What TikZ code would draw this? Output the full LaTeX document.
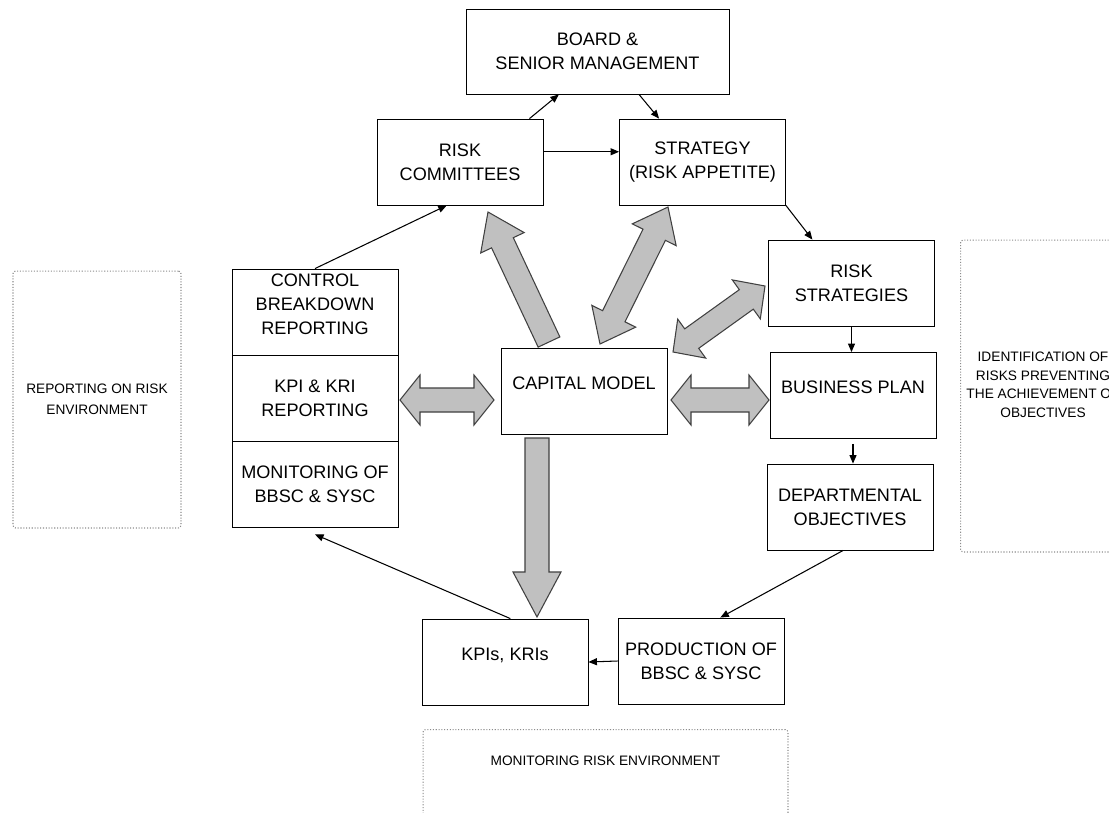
\documentclass[tikz,border=0pt]{standalone}
\usepackage{fontspec}
\setmainfont{Liberation Sans}
\usetikzlibrary{arrows.meta,calc}
\definecolor{fatfill}{HTML}{C0C0C0}
\definecolor{fatline}{HTML}{404040}
\definecolor{dotline}{HTML}{8C8C8C}
% fat block arrows: from, to, half shaft, half head, head length
\newcommand{\fatarrow}[5]{%
  \path ($(#2)!#5!(#1)$) coordinate (fh);
  \draw[fat] ($(#1)!#3!90:(#2)$) -- ($(fh)!#3!-90:(#1)$) -- ($(fh)!#4!-90:(#1)$) -- (#2)
    -- ($(fh)!#4!90:(#1)$) -- ($(fh)!#3!90:(#1)$) -- ($(#1)!#3!-90:(#2)$) -- cycle;}
\newcommand{\fatdarrow}[5]{%
  \path ($(#1)!#5!(#2)$) coordinate (ft) ($(#2)!#5!(#1)$) coordinate (fh);
  \draw[fat] (#1) -- ($(ft)!#4!90:(#2)$) -- ($(ft)!#3!90:(#2)$) -- ($(fh)!#3!-90:(#1)$)
    -- ($(fh)!#4!-90:(#1)$) -- (#2) -- ($(fh)!#4!90:(#1)$) -- ($(fh)!#3!90:(#1)$)
    -- ($(ft)!#3!-90:(#2)$) -- ($(ft)!#4!-90:(#2)$) -- cycle;}
\tikzset{
  box/.style ={draw=black, line width=.5pt, fill=white, align=center, inner sep=2pt,
               minimum width=3.32cm, minimum height=1.72cm, font=\fontsize{10.3}{13.6}\selectfont},
  boxup/.style={box, text depth=0.32cm},
  dbox/.style={draw=dotline, densely dotted, line width=.6pt, rounded corners=1.5pt, align=center,
               font=\fontsize{7.8}{10.5}\selectfont},
  fat/.style ={draw=fatline, fill=fatfill, line width=.6pt, line join=miter},
  ln/.style  ={draw=black, line width=.6pt, -{Triangle[length=1.7mm,width=1.4mm]}},
}
\begin{document}
\begin{tikzpicture}[x=0.02cm,y=-0.02cm]
    \path[use as bounding box,fill=white] (0,0) rectangle (1109,812);
    \clip (0,0) rectangle (1109,812);

    \node[box,minimum width=5.26cm,minimum height=1.7cm] (board) at (597.5,51.5) {BOARD \&\\SENIOR MANAGEMENT};
    \node[box] (rc) at (460,162) {RISK\\COMMITTEES};
    \node[box] (strat) at (702.5,162) {STRATEGY\\(RISK APPETITE)};
    \node[box] (rstrat) at (851.5,283) {RISK\\STRATEGIES};
    \node[boxup] (bplan) at (853,395.5) {BUSINESS PLAN};
    \node[box] (dept) at (850,507) {DEPARTMENTAL\\OBJECTIVES};
    \node[boxup] (cap) at (584,391.5) {CAPITAL MODEL};
    \node[boxup] (ctrl) at (315,312) {CONTROL\\BREAKDOWN\\REPORTING};
    \node[box] (kpirep) at (315,398) {KPI \& KRI\\REPORTING};
    \node[box] (mon) at (315,484) {MONITORING OF\\BBSC \& SYSC};
    \node[boxup] (kpi) at (505,662) {KPIs, KRIs};
    \node[box] (prod) at (701,661) {PRODUCTION OF\\BBSC \& SYSC};

    \node[dbox,minimum width=3.36cm,minimum height=5.14cm] (envrep) at (97,399.5)
      {REPORTING ON RISK\\[1.5pt] ENVIRONMENT};
    \node[dbox,minimum width=3.24cm,minimum height=6.24cm,text depth=0.45cm] (ident) at (1043,396)
      {IDENTIFICATION OF\\ RISKS PREVENTING\\ THE ACHIEVEMENT OF\\ OBJECTIVES};
    \node[dbox,anchor=north,minimum width=7.3cm,text height=0.2cm,text depth=2cm,inner ysep=0.52cm]
      (envmon) at (605.5,729) {MONITORING RISK ENVIRONMENT};

    \draw[ln] (rc.32) -- (board.228);
    \draw[ln] (board.314) -- (strat.135);
    \draw[ln] (rc.7) -- (rc.7 -| strat.west);
    \draw[ln] (strat.south east) -- (rstrat.132);
    \draw[ln] (rstrat.south) -- (rstrat.south |- bplan.north);
    \draw[ln] ([yshift=-0.1cm]bplan.south) -- (bplan.south |- dept.north);
    \draw[ln] (dept.261) -- (prod.66);
    \draw[ln] (prod.west) -- (kpi.east);
    \draw[ln] (kpi.83) -- ([yshift=-0.14cm]mon.south);
    \draw[ln] (ctrl.north) -- (rc.253);

    \coordinate (c1) at (549,342);  \coordinate (r1) at (488,212);
    \coordinate (c2) at (600,344);  \coordinate (s2) at (668,207);
    \coordinate (c3) at (673,352);  \coordinate (s3) at (765,286);
    \coordinate (k4) at (400,400);  \coordinate (c4) at (494,400);
    \coordinate (c5) at (671,400);  \coordinate (b5) at (769,400);
    \coordinate (c6) at (537,438);  \coordinate (k6) at (537,617);
    \fatarrow{c1}{r1}{0.24cm}{0.48cm}{0.68cm}
    \fatdarrow{c2}{s2}{0.25cm}{0.49cm}{0.62cm}
    \fatdarrow{c3}{s3}{0.24cm}{0.48cm}{0.46cm}
    \fatdarrow{k4}{c4}{0.24cm}{0.5cm}{0.4cm}
    \fatdarrow{c5}{b5}{0.24cm}{0.5cm}{0.4cm}
    \fatarrow{c6}{k6}{0.24cm}{0.48cm}{0.9cm}
  \end{tikzpicture}
\end{document}
